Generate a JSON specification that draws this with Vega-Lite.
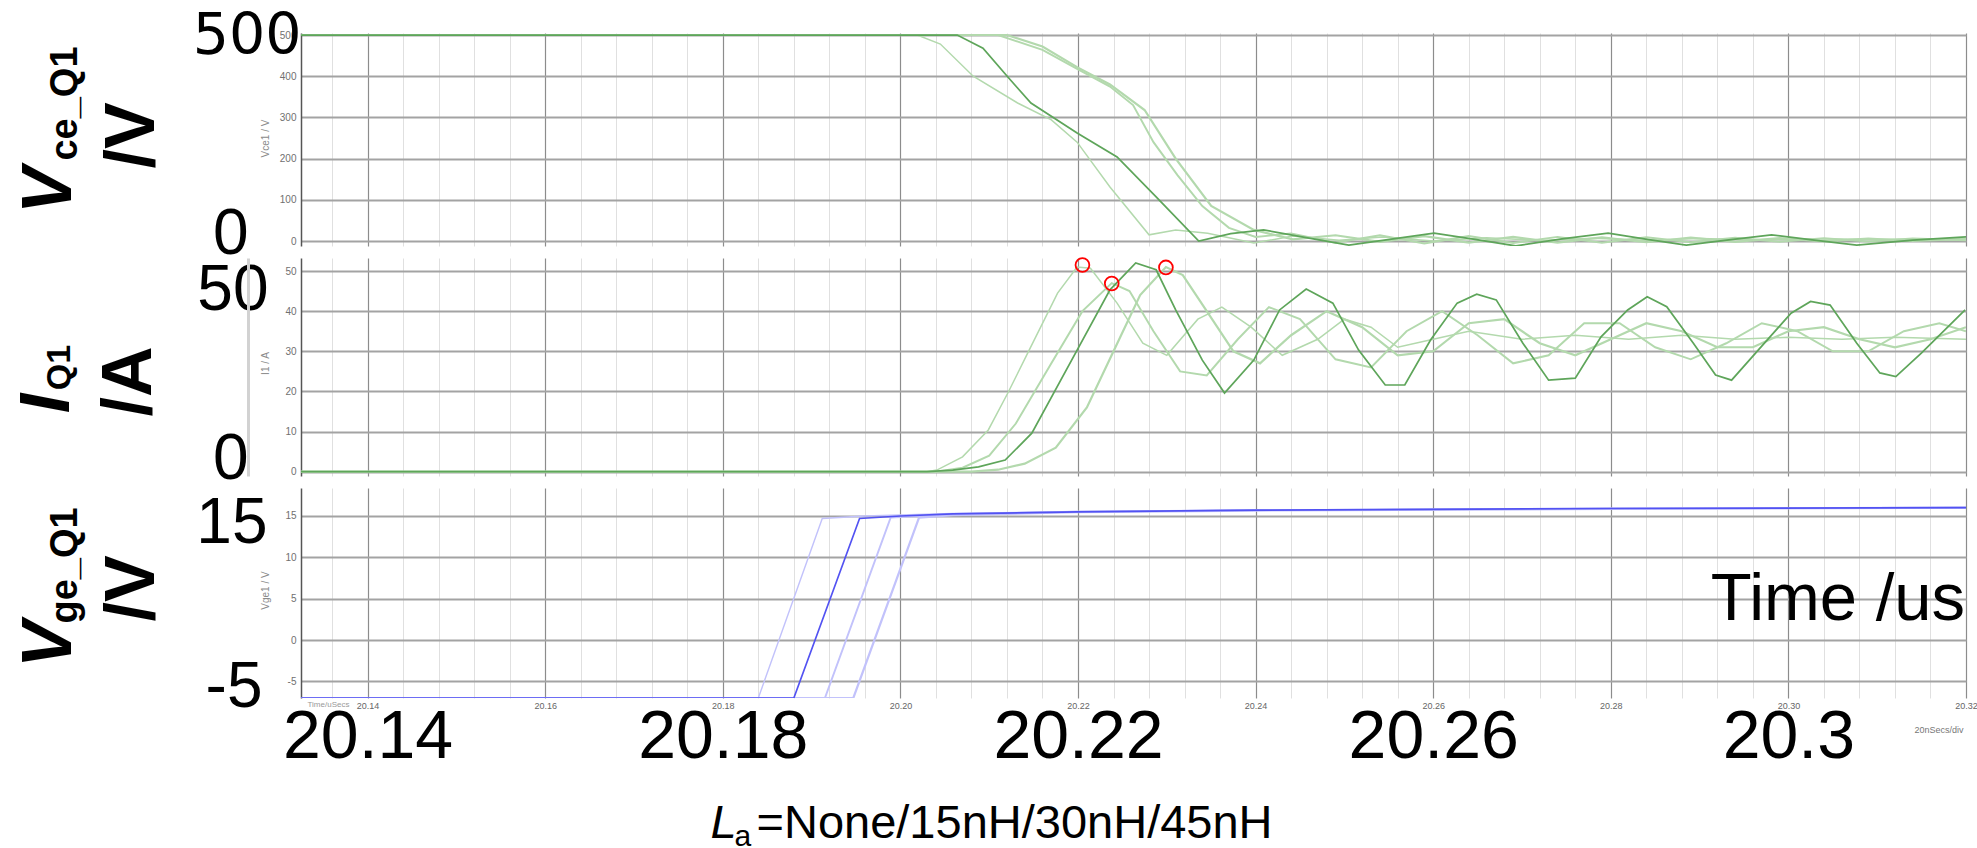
{
"$schema": "https://vega.github.io/schema/vega-lite/v6.json",
"background": "white",
"padding": {"left": 12, "top": 7, "right": 10, "bottom": 0},
"spacing": 12,
"bounds": "flush",
"resolve": {"scale": {"color": "independent", "strokeWidth": "independent"}},
"config": {"view": {"stroke": null}, "font": "Liberation Sans", "axis": {"labelFont": "Liberation Sans", "titleFont": "Liberation Sans"}},
"datasets": {
"vce": [
{"La":"None","t":20.1325,"v":500},{"La":"None","t":20.2019,"v":500},{"La":"None","t":20.2045,"v":478},{"La":"None","t":20.2082,"v":400},{"La":"None","t":20.2132,"v":335},{"La":"None","t":20.217,"v":294},{"La":"None","t":20.2199,"v":240},{"La":"None","t":20.2236,"v":131},{"La":"None","t":20.228,"v":15},{"La":"None","t":20.231,"v":27},{"La":"None","t":20.2346,"v":19},{"La":"None","t":20.2398,"v":-5},{"La":"None","t":20.2442,"v":12},{"La":"None","t":20.2494,"v":2},{"La":"None","t":20.2543,"v":10},{"La":"None","t":20.26,"v":0},{"La":"None","t":20.266,"v":8},{"La":"None","t":20.272,"v":1},{"La":"None","t":20.278,"v":7},{"La":"None","t":20.284,"v":2},{"La":"None","t":20.29,"v":6},{"La":"None","t":20.296,"v":3},{"La":"None","t":20.302,"v":5},{"La":"None","t":20.31,"v":4},{"La":"None","t":20.32,"v":5},
{"La":"30nH","t":20.1325,"v":500},{"La":"30nH","t":20.211,"v":500},{"La":"30nH","t":20.216,"v":464},{"La":"30nH","t":20.2199,"v":418},{"La":"30nH","t":20.2236,"v":375},{"La":"30nH","t":20.2262,"v":330},{"La":"30nH","t":20.2285,"v":240},{"La":"30nH","t":20.2312,"v":160},{"La":"30nH","t":20.234,"v":85},{"La":"30nH","t":20.237,"v":32},{"La":"30nH","t":20.24,"v":10},{"La":"30nH","t":20.244,"v":18},{"La":"30nH","t":20.249,"v":-4},{"La":"30nH","t":20.254,"v":14},{"La":"30nH","t":20.259,"v":-6},{"La":"30nH","t":20.264,"v":12},{"La":"30nH","t":20.269,"v":-5},{"La":"30nH","t":20.274,"v":10},{"La":"30nH","t":20.279,"v":-4},{"La":"30nH","t":20.284,"v":9},{"La":"30nH","t":20.289,"v":-3},{"La":"30nH","t":20.294,"v":8},{"La":"30nH","t":20.299,"v":-2},{"La":"30nH","t":20.304,"v":7},{"La":"30nH","t":20.309,"v":-1},{"La":"30nH","t":20.314,"v":6},{"La":"30nH","t":20.32,"v":2},
{"La":"45nH","t":20.1325,"v":500},{"La":"45nH","t":20.212,"v":500},{"La":"45nH","t":20.216,"v":472},{"La":"45nH","t":20.2199,"v":422},{"La":"45nH","t":20.2236,"v":380},{"La":"45nH","t":20.2275,"v":318},{"La":"45nH","t":20.231,"v":200},{"La":"45nH","t":20.235,"v":85},{"La":"45nH","t":20.2398,"v":27},{"La":"45nH","t":20.2442,"v":4},{"La":"45nH","t":20.249,"v":14},{"La":"45nH","t":20.254,"v":-2},{"La":"45nH","t":20.259,"v":12},{"La":"45nH","t":20.264,"v":-4},{"La":"45nH","t":20.269,"v":10},{"La":"45nH","t":20.274,"v":-4},{"La":"45nH","t":20.279,"v":9},{"La":"45nH","t":20.284,"v":-3},{"La":"45nH","t":20.289,"v":8},{"La":"45nH","t":20.294,"v":-2},{"La":"45nH","t":20.299,"v":7},{"La":"45nH","t":20.304,"v":-1},{"La":"45nH","t":20.309,"v":6},{"La":"45nH","t":20.314,"v":0},{"La":"45nH","t":20.32,"v":5},
{"La":"15nH","t":20.1325,"v":500},{"La":"15nH","t":20.2064,"v":500},{"La":"15nH","t":20.2093,"v":468},{"La":"15nH","t":20.2121,"v":398},{"La":"15nH","t":20.2147,"v":335},{"La":"15nH","t":20.2199,"v":262},{"La":"15nH","t":20.2244,"v":204},{"La":"15nH","t":20.2288,"v":107},{"La":"15nH","t":20.2336,"v":0},{"La":"15nH","t":20.2372,"v":18},{"La":"15nH","t":20.2409,"v":27},{"La":"15nH","t":20.2457,"v":8},{"La":"15nH","t":20.2505,"v":-10},{"La":"15nH","t":20.2555,"v":5},{"La":"15nH","t":20.2601,"v":19},{"La":"15nH","t":20.2647,"v":4},{"La":"15nH","t":20.2693,"v":-12},{"La":"15nH","t":20.2745,"v":5},{"La":"15nH","t":20.2797,"v":19},{"La":"15nH","t":20.2841,"v":4},{"La":"15nH","t":20.2885,"v":-10},{"La":"15nH","t":20.2933,"v":3},{"La":"15nH","t":20.2981,"v":15},{"La":"15nH","t":20.3029,"v":2},{"La":"15nH","t":20.3077,"v":-10},{"La":"15nH","t":20.314,"v":2},{"La":"15nH","t":20.32,"v":10}
],
"ic": [
{"La":"None","t":20.1325,"v":0},{"La":"None","t":20.203,"v":0},{"La":"None","t":20.2041,"v":0.4},{"La":"None","t":20.207,"v":3.7},{"La":"None","t":20.2099,"v":10.4},{"La":"None","t":20.2121,"v":19.6},{"La":"None","t":20.2145,"v":30.3},{"La":"None","t":20.2177,"v":44.5},{"La":"None","t":20.2199,"v":51},{"La":"None","t":20.2214,"v":50.7},{"La":"None","t":20.2244,"v":42},{"La":"None","t":20.2273,"v":32},{"La":"None","t":20.23,"v":29},{"La":"None","t":20.2335,"v":38},{"La":"None","t":20.2362,"v":41},{"La":"None","t":20.2395,"v":36},{"La":"None","t":20.243,"v":29},{"La":"None","t":20.247,"v":33},{"La":"None","t":20.25,"v":38},{"La":"None","t":20.253,"v":36},{"La":"None","t":20.256,"v":31},{"La":"None","t":20.26,"v":33},{"La":"None","t":20.264,"v":35},{"La":"None","t":20.27,"v":33},{"La":"None","t":20.276,"v":34},{"La":"None","t":20.282,"v":33},{"La":"None","t":20.288,"v":34},{"La":"None","t":20.294,"v":33},{"La":"None","t":20.3,"v":33.5},{"La":"None","t":20.306,"v":33},{"La":"None","t":20.312,"v":33.5},{"La":"None","t":20.32,"v":33},
{"La":"30nH","t":20.1325,"v":0},{"La":"30nH","t":20.204,"v":0},{"La":"30nH","t":20.207,"v":1},{"La":"30nH","t":20.21,"v":4},{"La":"30nH","t":20.213,"v":12},{"La":"30nH","t":20.217,"v":27},{"La":"30nH","t":20.2205,"v":40},{"La":"30nH","t":20.2238,"v":47},{"La":"30nH","t":20.2258,"v":45},{"La":"30nH","t":20.2285,"v":35},{"La":"30nH","t":20.2315,"v":25},{"La":"30nH","t":20.2345,"v":24},{"La":"30nH","t":20.238,"v":33},{"La":"30nH","t":20.2415,"v":41},{"La":"30nH","t":20.245,"v":38},{"La":"30nH","t":20.249,"v":28},{"La":"30nH","t":20.253,"v":26},{"La":"30nH","t":20.257,"v":35},{"La":"30nH","t":20.261,"v":40},{"La":"30nH","t":20.265,"v":34},{"La":"30nH","t":20.269,"v":27},{"La":"30nH","t":20.273,"v":29},{"La":"30nH","t":20.277,"v":37},{"La":"30nH","t":20.281,"v":37},{"La":"30nH","t":20.285,"v":31},{"La":"30nH","t":20.289,"v":28},{"La":"30nH","t":20.293,"v":32},{"La":"30nH","t":20.297,"v":37},{"La":"30nH","t":20.301,"v":35},{"La":"30nH","t":20.305,"v":30},{"La":"30nH","t":20.309,"v":30},{"La":"30nH","t":20.313,"v":35},{"La":"30nH","t":20.317,"v":37},{"La":"30nH","t":20.32,"v":35},
{"La":"45nH","t":20.1325,"v":0},{"La":"45nH","t":20.208,"v":0},{"La":"45nH","t":20.211,"v":0.5},{"La":"45nH","t":20.214,"v":2},{"La":"45nH","t":20.2175,"v":6},{"La":"45nH","t":20.221,"v":16},{"La":"45nH","t":20.224,"v":30},{"La":"45nH","t":20.227,"v":44},{"La":"45nH","t":20.2299,"v":51},{"La":"45nH","t":20.2318,"v":49},{"La":"45nH","t":20.2345,"v":40},{"La":"45nH","t":20.2375,"v":30},{"La":"45nH","t":20.2405,"v":27},{"La":"45nH","t":20.244,"v":34},{"La":"45nH","t":20.248,"v":40},{"La":"45nH","t":20.252,"v":36},{"La":"45nH","t":20.256,"v":29},{"La":"45nH","t":20.26,"v":30},{"La":"45nH","t":20.264,"v":37},{"La":"45nH","t":20.268,"v":38},{"La":"45nH","t":20.272,"v":32},{"La":"45nH","t":20.276,"v":29},{"La":"45nH","t":20.28,"v":33},{"La":"45nH","t":20.284,"v":37},{"La":"45nH","t":20.288,"v":35},{"La":"45nH","t":20.292,"v":31},{"La":"45nH","t":20.296,"v":31},{"La":"45nH","t":20.3,"v":35},{"La":"45nH","t":20.304,"v":36},{"La":"45nH","t":20.308,"v":33},{"La":"45nH","t":20.312,"v":31},{"La":"45nH","t":20.316,"v":33},{"La":"45nH","t":20.32,"v":36},
{"La":"15nH","t":20.1325,"v":0},{"La":"15nH","t":20.203,"v":0},{"La":"15nH","t":20.2059,"v":0.4},{"La":"15nH","t":20.2088,"v":1.2},{"La":"15nH","t":20.2118,"v":2.9},{"La":"15nH","t":20.2148,"v":9.6},{"La":"15nH","t":20.2199,"v":30.3},{"La":"15nH","t":20.2236,"v":45.3},{"La":"15nH","t":20.2265,"v":52},{"La":"15nH","t":20.2288,"v":50.3},{"La":"15nH","t":20.231,"v":40.3},{"La":"15nH","t":20.234,"v":27.8},{"La":"15nH","t":20.2365,"v":19.6},{"La":"15nH","t":20.2398,"v":27.8},{"La":"15nH","t":20.2427,"v":40.3},{"La":"15nH","t":20.2457,"v":45.5},{"La":"15nH","t":20.2487,"v":42},{"La":"15nH","t":20.2516,"v":30.3},{"La":"15nH","t":20.2546,"v":21.6},{"La":"15nH","t":20.2568,"v":21.6},{"La":"15nH","t":20.2597,"v":32.8},{"La":"15nH","t":20.2627,"v":42},{"La":"15nH","t":20.2649,"v":44.2},{"La":"15nH","t":20.2671,"v":42.8},{"La":"15nH","t":20.2701,"v":32},{"La":"15nH","t":20.273,"v":22.8},{"La":"15nH","t":20.276,"v":23.3},{"La":"15nH","t":20.2789,"v":33.6},{"La":"15nH","t":20.2819,"v":40.3},{"La":"15nH","t":20.2841,"v":43.6},{"La":"15nH","t":20.2863,"v":41.1},{"La":"15nH","t":20.2893,"v":32},{"La":"15nH","t":20.2918,"v":24.1},{"La":"15nH","t":20.2936,"v":22.8},{"La":"15nH","t":20.2966,"v":30.3},{"La":"15nH","t":20.3003,"v":39.5},{"La":"15nH","t":20.3025,"v":42.4},{"La":"15nH","t":20.3047,"v":41.5},{"La":"15nH","t":20.3077,"v":32},{"La":"15nH","t":20.3103,"v":24.6},{"La":"15nH","t":20.3121,"v":23.7},{"La":"15nH","t":20.315,"v":29.6},{"La":"15nH","t":20.3199,"v":40.3}
],
"peaks": [
{"t":20.2205,"v":51.5},{"t":20.2238,"v":46.9},{"t":20.2299,"v":50.9}
],
"vge": [
{"La":"None","t":20.1325,"v":-7},{"La":"None","t":20.184,"v":-7},{"La":"None","t":20.1912,"v":14.7},{"La":"None","t":20.196,"v":15.0},{"La":"None","t":20.2059,"v":15.3},{"La":"None","t":20.2199,"v":15.55},{"La":"None","t":20.24,"v":15.7},{"La":"None","t":20.28,"v":15.9},{"La":"None","t":20.32,"v":16.0},
{"La":"30nH","t":20.1325,"v":-7},{"La":"30nH","t":20.1915,"v":-7},{"La":"30nH","t":20.1989,"v":14.8},{"La":"30nH","t":20.2059,"v":15.2},{"La":"30nH","t":20.2199,"v":15.5},{"La":"30nH","t":20.24,"v":15.7},{"La":"30nH","t":20.28,"v":15.9},{"La":"30nH","t":20.32,"v":16.0},
{"La":"45nH","t":20.1325,"v":-7},{"La":"45nH","t":20.1947,"v":-7},{"La":"45nH","t":20.2021,"v":14.8},{"La":"45nH","t":20.2059,"v":15.1},{"La":"45nH","t":20.2199,"v":15.45},{"La":"45nH","t":20.24,"v":15.65},{"La":"45nH","t":20.28,"v":15.85},{"La":"45nH","t":20.32,"v":16.0},
{"La":"15nH","t":20.1325,"v":-7},{"La":"15nH","t":20.188,"v":-7},{"La":"15nH","t":20.1954,"v":14.7},{"La":"15nH","t":20.2,"v":15.0},{"La":"15nH","t":20.2059,"v":15.25},{"La":"15nH","t":20.2199,"v":15.5},{"La":"15nH","t":20.24,"v":15.7},{"La":"15nH","t":20.28,"v":15.9},{"La":"15nH","t":20.32,"v":16.0}
],
"one": [{}]
},
"vconcat": [
{
"width": 1665, "height": 213,
"resolve": {"axis": {"x": "independent", "y": "independent"}},
"layer": [
{
"data": {"name": "vce"},
"mark": {"type": "line", "clip": true},
"encoding": {
"x": {"field": "t", "type": "quantitative", "scale": {"domain": [20.1325, 20.32], "nice": false, "zero": false},
 "axis": {"orient": "bottom", "values": [20.136,20.144,20.148,20.152,20.156,20.164,20.168,20.172,20.176,20.184,20.188,20.192,20.196,20.204,20.208,20.212,20.216,20.224,20.228,20.232,20.236,20.244,20.248,20.252,20.256,20.264,20.268,20.272,20.276,20.284,20.288,20.292,20.296,20.304,20.308,20.312,20.316], "grid": true, "gridColor": "#e0e0e0", "gridWidth": 1, "labels": false, "ticks": false, "domain": false, "title": null}},
"y": {"field": "v", "type": "quantitative", "scale": {"domain": [-12.1, 504.9], "nice": false, "zero": false},
 "axis": {"orient": "left", "values": [0,100,200,300,400,500], "grid": true, "gridColor": "#a3a3a3", "gridWidth": 2.2, "domain": true, "domainColor": "#555555", "domainWidth": 1.5, "ticks": false, "labelFontSize": 10, "labelColor": "#707070", "labelPadding": 5, "labelOverlap": false, "labelFlush": false, "title": "Vce1 / V", "titleFontSize": 10, "titleFontWeight": "normal", "titleColor": "#8a8a8a", "titleX": -31, "titleY": 105, "titleAngle": -90, "titleAlign": "center", "titleBaseline": "bottom"}},
"color": {"field": "La", "type": "nominal", "scale": {"domain": ["None","15nH","30nH","45nH"], "range": ["#b3d9ad","#5ea55a","#b3d9ad","#b3d9ad"]}, "legend": null},
"strokeWidth": {"field": "La", "type": "nominal", "scale": {"domain": ["None","15nH","30nH","45nH"], "range": [1.5,2.2,1.5,1.5]}, "legend": null}
}
},
{
"data": {"name": "one"},
"mark": {"type": "point", "opacity": 0},
"encoding": {
"x": {"datum": 20.2, "type": "quantitative", "scale": {"domain": [20.1325, 20.32], "nice": false, "zero": false},
 "axis": {"orient": "bottom", "values": [20.14,20.16,20.18,20.2,20.22,20.24,20.26,20.28,20.3,20.32], "grid": true, "gridColor": "#8c8c8c", "gridWidth": 1.2, "labels": false, "ticks": false, "domain": false, "title": null}},
"y": {"datum": 500, "type": "quantitative", "scale": {"domain": [-12.1, 504.9], "nice": false, "zero": false},
 "axis": {"orient": "left", "values": [500], "grid": false, "domain": false, "ticks": false, "labelFont": "DejaVu Sans", "labelFontSize": 57, "labelColor": "#000000", "labelPadding": 0, "labelOffset": 1, "labelBaseline": "middle", "labelOverlap": false, "labelFlush": false, "title": "V", "titleFontSize": 70, "titleFontWeight": "bold", "titleFontStyle": "italic", "titleColor": "#000000", "titleX": -231, "titleY": 157, "titleAngle": -90, "titleAlign": "center", "titleBaseline": "alphabetic"}}
}
},
{
"data": {"name": "one"},
"mark": {"type": "point", "opacity": 0},
"encoding": {
"y": {"datum": 0, "type": "quantitative", "scale": {"domain": [-12.1, 504.9], "nice": false, "zero": false},
 "axis": {"orient": "left", "values": [0], "grid": false, "domain": false, "ticks": false, "labelFontSize": 64, "labelColor": "#000000", "labelPadding": 53, "labelOffset": -7, "labelBaseline": "middle", "labelOverlap": false, "labelFlush": false, "title": "ce_Q1", "titleFontSize": 38, "titleFontWeight": "bold", "titleColor": "#000000", "titleX": -225, "titleY": 70, "titleAngle": -90, "titleAlign": "center", "titleBaseline": "alphabetic"}}
}
},
{
"data": {"name": "one"},
"mark": {"type": "point", "opacity": 0},
"encoding": {
"y": {"datum": 0, "type": "quantitative", "scale": {"domain": [-12.1, 504.9], "nice": false, "zero": false},
 "axis": {"orient": "left", "grid": false, "domain": false, "ticks": false, "labels": false, "title": "/V", "titleFontSize": 70, "titleFontWeight": "bold", "titleColor": "#000000", "titleX": -148, "titleY": 102, "titleAngle": -90, "titleAlign": "center", "titleBaseline": "alphabetic"}}
}
}
]
},
{
"width": 1665, "height": 218,
"resolve": {"axis": {"x": "independent", "y": "independent"}},
"layer": [
{
"data": {"name": "ic"},
"mark": {"type": "line", "clip": true},
"encoding": {
"x": {"field": "t", "type": "quantitative", "scale": {"domain": [20.1325, 20.32], "nice": false, "zero": false},
 "axis": {"orient": "bottom", "values": [20.136,20.144,20.148,20.152,20.156,20.164,20.168,20.172,20.176,20.184,20.188,20.192,20.196,20.204,20.208,20.212,20.216,20.224,20.228,20.232,20.236,20.244,20.248,20.252,20.256,20.264,20.268,20.272,20.276,20.284,20.288,20.292,20.296,20.304,20.308,20.312,20.316], "grid": true, "gridColor": "#e0e0e0", "gridWidth": 1, "labels": false, "ticks": false, "domain": false, "title": null}},
"y": {"field": "v", "type": "quantitative", "scale": {"domain": [-1.07, 53.24], "nice": false, "zero": false},
 "axis": {"orient": "left", "values": [0,10,20,30,40,50], "grid": true, "gridColor": "#a3a3a3", "gridWidth": 2.2, "domain": true, "domainColor": "#555555", "domainWidth": 1.5, "ticks": false, "labelFontSize": 10, "labelColor": "#707070", "labelPadding": 5, "labelOverlap": false, "labelFlush": false, "title": "I1 / A", "titleFontSize": 10, "titleFontWeight": "normal", "titleColor": "#8a8a8a", "titleX": -31, "titleY": 105, "titleAngle": -90, "titleAlign": "center", "titleBaseline": "bottom"}},
"color": {"field": "La", "type": "nominal", "scale": {"domain": ["None","15nH","30nH","45nH"], "range": ["#b3d9ad","#5ea55a","#b3d9ad","#b3d9ad"]}, "legend": null},
"strokeWidth": {"field": "La", "type": "nominal", "scale": {"domain": ["None","15nH","30nH","45nH"], "range": [1.5,2.2,1.5,1.5]}, "legend": null}
}
},
{
"data": {"name": "peaks"},
"mark": {"type": "point", "shape": "circle", "filled": false, "color": "#ff0000", "strokeWidth": 1.8, "size": 190, "opacity": 1},
"encoding": {
"x": {"field": "t", "type": "quantitative", "scale": {"domain": [20.1325, 20.32], "nice": false, "zero": false},
 "axis": {"orient": "bottom", "values": [20.14,20.16,20.18,20.2,20.22,20.24,20.26,20.28,20.3,20.32], "grid": true, "gridColor": "#8c8c8c", "gridWidth": 1.2, "labels": false, "ticks": false, "domain": false, "title": null}},
"y": {"field": "v", "type": "quantitative", "scale": {"domain": [-1.07, 53.24], "nice": false, "zero": false},
 "axis": {"orient": "left", "values": [50], "grid": false, "domain": false, "ticks": false, "labelFontSize": 64, "labelColor": "#000000", "labelPadding": 33, "labelOffset": 19, "labelBaseline": "middle", "labelOverlap": false, "labelFlush": false, "title": "I", "titleFontSize": 70, "titleFontWeight": "bold", "titleFontStyle": "italic", "titleColor": "#000000", "titleX": -233, "titleY": 145, "titleAngle": -90, "titleAlign": "center", "titleBaseline": "alphabetic"}}
}
},
{
"data": {"name": "one"},
"mark": {"type": "point", "opacity": 0},
"encoding": {
"y": {"datum": 0, "type": "quantitative", "scale": {"domain": [-1.07, 53.24], "nice": false, "zero": false},
 "axis": {"orient": "left", "values": [0], "grid": false, "domain": false, "ticks": false, "labelFontSize": 64, "labelColor": "#000000", "labelPadding": 53, "labelOffset": -12, "labelBaseline": "middle", "labelOverlap": false, "labelFlush": false, "title": "Q1", "titleFontSize": 34, "titleFontWeight": "bold", "titleColor": "#000000", "titleX": -232, "titleY": 109, "titleAngle": -90, "titleAlign": "center", "titleBaseline": "alphabetic"}}
}
},
{
"data": {"name": "one"},
"mark": {"type": "point", "opacity": 0},
"encoding": {
"y": {"datum": 0, "type": "quantitative", "scale": {"domain": [-1.07, 53.24], "nice": false, "zero": false},
 "axis": {"orient": "left", "offset": 53, "grid": false, "domain": true, "domainColor": "#d2d2d2", "domainWidth": 3, "ticks": false, "labels": false, "title": "/A", "titleFontSize": 70, "titleFontWeight": "bold", "titleColor": "#000000", "titleX": -98, "titleY": 123, "titleAngle": -90, "titleAlign": "center", "titleBaseline": "alphabetic"}}
}
}
]
},
{
"width": 1665, "height": 210,
"resolve": {"axis": {"x": "independent", "y": "independent"}},
"layer": [
{
"data": {"name": "vge"},
"mark": {"type": "line", "clip": true},
"encoding": {
"x": {"field": "t", "type": "quantitative", "scale": {"domain": [20.1325, 20.32], "nice": false, "zero": false},
 "axis": {"orient": "bottom", "values": [20.136,20.144,20.148,20.152,20.156,20.164,20.168,20.172,20.176,20.184,20.188,20.192,20.196,20.204,20.208,20.212,20.216,20.224,20.228,20.232,20.236,20.244,20.248,20.252,20.256,20.264,20.268,20.272,20.276,20.284,20.288,20.292,20.296,20.304,20.308,20.312,20.316], "grid": true, "gridColor": "#e0e0e0", "gridWidth": 1, "labels": false, "ticks": false, "domain": false, "title": "Time/uSecs", "titleFontSize": 8, "titleFontWeight": "normal", "titleColor": "#999999", "titleX": 6, "titleY": 2, "titleAlign": "left", "titleBaseline": "top", "titleAngle": 0}},
"y": {"field": "v", "type": "quantitative", "scale": {"domain": [-7.0, 18.38], "nice": false, "zero": false},
 "axis": {"orient": "left", "values": [-5,0,5,10,15], "grid": true, "gridColor": "#a3a3a3", "gridWidth": 2.2, "domain": true, "domainColor": "#555555", "domainWidth": 1.5, "ticks": false, "labelFontSize": 10, "labelColor": "#707070", "labelPadding": 5, "labelOverlap": false, "labelFlush": false, "labelExpr": "replace(datum.label, '\u2212', '-')", "title": "Vge1 / V", "titleFontSize": 10, "titleFontWeight": "normal", "titleColor": "#8a8a8a", "titleX": -31, "titleY": 102, "titleAngle": -90, "titleAlign": "center", "titleBaseline": "bottom"}},
"color": {"field": "La", "type": "nominal", "scale": {"domain": ["None","15nH","30nH","45nH"], "range": ["#c2c2fb","#5252f2","#c2c2fb","#c2c2fb"]}, "legend": null},
"strokeWidth": {"field": "La", "type": "nominal", "scale": {"domain": ["None","15nH","30nH","45nH"], "range": [1.4,2.2,1.4,1.4]}, "legend": null}
}
},
{
"data": {"name": "one"},
"mark": {"type": "point", "opacity": 0},
"encoding": {
"x": {"datum": 20.2, "type": "quantitative", "scale": {"domain": [20.1325, 20.32], "nice": false, "zero": false},
 "axis": {"orient": "bottom", "values": [20.14,20.16,20.18,20.2,20.22,20.24,20.26,20.28,20.3,20.32], "format": ".2f", "grid": true, "gridColor": "#8c8c8c", "gridWidth": 1.2, "labels": true, "labelFontSize": 9, "labelColor": "#666666", "labelPadding": 3, "labelOverlap": false, "labelFlush": false, "ticks": false, "domain": false, "title": "20nSecs/div", "titleFontSize": 9, "titleFontWeight": "normal", "titleColor": "#777777", "titleX": 1662, "titleY": 34, "titleAlign": "right", "titleBaseline": "alphabetic", "titleAngle": 0}},
"y": {"datum": 0, "type": "quantitative", "scale": {"domain": [-7.0, 18.38], "nice": false, "zero": false},
 "axis": {"orient": "left", "values": [15], "grid": false, "domain": false, "ticks": false, "labelFontSize": 64, "labelColor": "#000000", "labelPadding": 34, "labelOffset": 8, "labelBaseline": "middle", "labelOverlap": false, "labelFlush": false, "title": "V", "titleFontSize": 70, "titleFontWeight": "bold", "titleFontStyle": "italic", "titleColor": "#000000", "titleX": -231, "titleY": 156, "titleAngle": -90, "titleAlign": "center", "titleBaseline": "alphabetic"}}
}
},
{
"data": {"name": "one"},
"mark": {"type": "point", "opacity": 0},
"encoding": {
"x": {"datum": 20.2, "type": "quantitative", "scale": {"domain": [20.1325, 20.32], "nice": false, "zero": false},
 "axis": {"orient": "bottom", "values": [20.14,20.18,20.22,20.26,20.3], "format": ".2~f", "grid": false, "labels": true, "labelFontSize": 68, "labelColor": "#000000", "labelPadding": 5, "labelOverlap": false, "labelFlush": false, "ticks": false, "domain": false, "title": "=None/15nH/30nH/45nH", "titleFontSize": 47, "titleFontWeight": "normal", "titleColor": "#000000", "titleX": 455, "titleY": 139, "titleAlign": "left", "titleBaseline": "alphabetic", "titleAngle": 0}},
"y": {"datum": 0, "type": "quantitative", "scale": {"domain": [-7.0, 18.38], "nice": false, "zero": false},
 "axis": {"orient": "left", "values": [-5], "grid": false, "domain": false, "ticks": false, "labelFontSize": 64, "labelColor": "#000000", "labelPadding": 39, "labelOffset": 6, "labelBaseline": "middle", "labelOverlap": false, "labelFlush": false, "labelExpr": "replace(datum.label, '\u2212', '-')", "title": "ge_Q1", "titleFontSize": 38, "titleFontWeight": "bold", "titleColor": "#000000", "titleX": -225, "titleY": 77, "titleAngle": -90, "titleAlign": "center", "titleBaseline": "alphabetic"}}
}
},
{
"data": {"name": "one"},
"mark": {"type": "point", "opacity": 0},
"encoding": {
"x": {"datum": 20.2, "type": "quantitative", "scale": {"domain": [20.1325, 20.32], "nice": false, "zero": false},
 "axis": {"orient": "bottom", "grid": false, "labels": false, "ticks": false, "domain": false, "title": "L", "titleFontSize": 47, "titleFontWeight": "normal", "titleFontStyle": "italic", "titleColor": "#000000", "titleX": 409, "titleY": 139, "titleAlign": "left", "titleBaseline": "alphabetic", "titleAngle": 0}},
"y": {"datum": 0, "type": "quantitative", "scale": {"domain": [-7.0, 18.38], "nice": false, "zero": false},
 "axis": {"orient": "left", "grid": false, "domain": false, "ticks": false, "labels": false, "title": "/V", "titleFontSize": 70, "titleFontWeight": "bold", "titleColor": "#000000", "titleX": -148, "titleY": 100, "titleAngle": -90, "titleAlign": "center", "titleBaseline": "alphabetic"}}
}
},
{
"data": {"name": "one"},
"mark": {"type": "point", "opacity": 0},
"encoding": {
"x": {"datum": 20.2, "type": "quantitative", "scale": {"domain": [20.1325, 20.32], "nice": false, "zero": false},
 "axis": {"orient": "bottom", "grid": false, "labels": false, "ticks": false, "domain": false, "title": "a", "titleFontSize": 30, "titleFontWeight": "normal", "titleColor": "#000000", "titleX": 433, "titleY": 147, "titleAlign": "left", "titleBaseline": "alphabetic", "titleAngle": 0}}
}
},
{
"data": {"name": "one"},
"mark": {"type": "text", "align": "right", "baseline": "alphabetic", "fontSize": 67, "font": "Liberation Sans", "color": "#000000", "text": "Time /us"},
"encoding": {
"x": {"datum": 20.3199, "type": "quantitative", "scale": {"domain": [20.1325, 20.32], "nice": false, "zero": false}, "axis": null},
"y": {"datum": 2.45, "type": "quantitative", "scale": {"domain": [-7.0, 18.38], "nice": false, "zero": false}, "axis": null}
}
}
]
}
]
}
